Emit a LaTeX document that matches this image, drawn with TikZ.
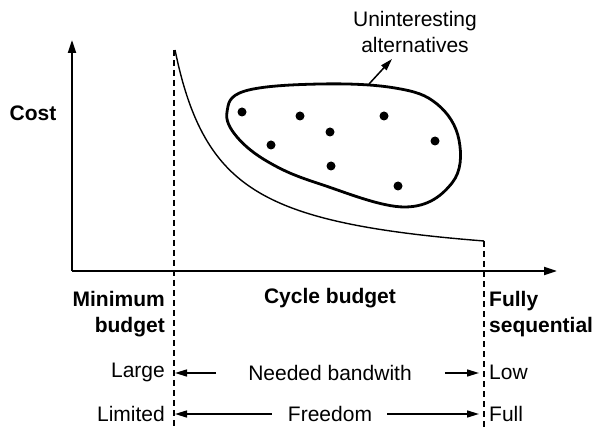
\documentclass[tikz,border=0pt]{standalone}
\usepackage{fontspec}
\setmainfont{Liberation Sans}
\usetikzlibrary{arrows.meta}
\tikzset{
  lbl/.style={inner sep=0pt, font=\fontsize{21}{26}\selectfont},
  blbl/.style={inner sep=0pt, font=\fontsize{21}{26}\selectfont\bfseries},
  axis/.style={line width=2pt, -{Triangle[length=13pt,width=8pt]}},
  arr/.style={line width=1.5pt, -{Triangle[length=12pt,width=7pt]}},
  guide/.style={line width=1.3pt, dash pattern=on 6pt off 4pt},
  dot/.style={circle, fill=black, inner sep=0pt, minimum size=9pt}
}
\begin{document}
\begin{tikzpicture}[x=1pt,y=-1pt]
\useasboundingbox (0,0) rectangle (596,427);
% axes
\coordinate (o) at (72,271);
\coordinate (ytip) at (72,40);
\coordinate (xtip) at (557,271);
\draw[axis] (o) -- (ytip);
\draw[axis] (o) -- (xtip);
% guide lines
\coordinate (dLt) at (174,50);
\coordinate (dLb) at (174,427);
\coordinate (dRt) at (484,241);
\coordinate (dRb) at (484,427);
\draw[guide] (dLt) -- (dLb);
\draw[guide] (dRt) -- (dRb);
% cost curve
\draw[line width=1.4pt] plot[domain=175:484, samples=80, smooth]
  ({\x},{268.8-9847/(\x-130)});
% blob
\draw[line width=2.8pt] plot[smooth cycle, tension=0.65] coordinates {
 (227,112) (245,91) (320,84) (395,88) (437,104) (459,140) (452,183)
 (405,207) (320,184) (270,163) (237,137)};
\coordinate (blobtop) at (369,84);
% dots
\foreach \i/\p in {1/{(242,112)},2/{(300,116)},3/{(384,116)},4/{(330,132)},
                   5/{(271,145)},6/{(435,141)},7/{(331,166)},8/{(398,186)}}
  \node[dot] (d\i) at \p {};
% annotation
\node[lbl, align=center] (unint) at (415,32) {Uninteresting\\alternatives};
\coordinate (antip) at (392,59);
\draw[arr] (blobtop) -- (antip);
% labels
\node[blbl] (cost) at (33,113) {Cost};
\node[blbl, anchor=east, align=right] (minb) at (165,314) {Minimum\\budget};
\node[blbl] (cycle) at (330,298) {Cycle budget};
\node[blbl, anchor=west, align=left] (fully) at (489,314) {Fully\\sequential};
\node[lbl, anchor=east] (large) at (165,372) {Large};
\node[lbl, anchor=east] (limited) at (165,414) {Limited};
\node[lbl, anchor=west] (low) at (489,372) {Low};
\node[lbl, anchor=west] (full) at (489,414) {Full};
\node[lbl] (needed) at (330,373) {Needed bandwith};
\node[lbl] (freedom) at (330,414) {Freedom};
% range arrows
\draw[arr, shorten <=32pt, shorten >=1pt] (needed.west) -- (needed.west -| dLb);
\draw[arr, shorten <=33pt, shorten >=5pt] (needed.east) -- (needed.east -| dRb);
\draw[arr, shorten <=16pt, shorten >=1pt] (freedom.west) -- (freedom.west -| dLb);
\draw[arr, shorten <=15pt, shorten >=5pt] (freedom.east) -- (freedom.east -| dRb);
\end{tikzpicture}
\end{document}
